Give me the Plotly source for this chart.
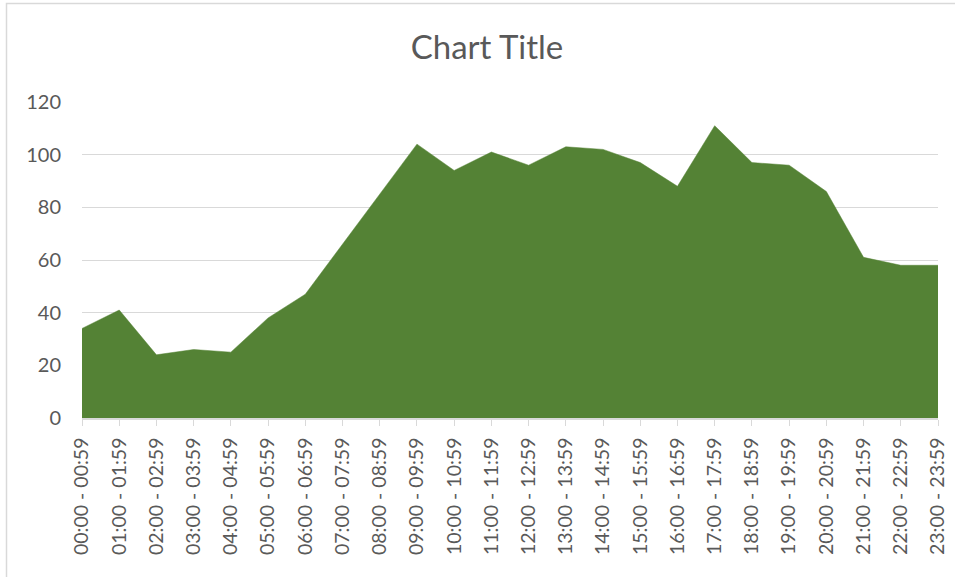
import plotly.graph_objects as go

categories = [f"{h:02d}:00 - {h:02d}:59" for h in range(24)]
values = [34, 41, 24, 26, 25, 38, 47, 66, 85, 104, 94, 101,
          96, 103, 102, 97, 88, 111, 97, 96, 86, 61, 58, 58]
y_ticks = [0, 20, 40, 60, 80, 100, 120]

TEXT = "#595959"
GRID = "#D9D9D9"
GREEN = "#548235"
FONT = "Lato"

fig = go.Figure()
fig.add_trace(go.Scatter(
    x=categories, y=values, mode="lines", fill="tozeroy",
    fillcolor=GREEN, line=dict(color=GREEN, width=0.5),
    hoverinfo="x+y", showlegend=False,
))

L, R, T, B = 82, 17, 102, 159
W, H = 955, 577
pw, ph = W - L - R, H - T - B

def px_x(p):
    return (p - L) / pw

def px_y(p):
    return 1 - (p - T) / ph

fig.update_layout(
    width=W, height=H, autosize=False,
    margin=dict(l=L, r=R, t=T, b=B, autoexpand=False),
    paper_bgcolor="white", plot_bgcolor="white",
    title=dict(text="Chart Title", xref="container", x=487 / W,
               xanchor="center", yref="container",
               y=1 - 47 / H, yanchor="middle",
               font=dict(family=FONT, size=33, color=TEXT)),
    font=dict(family=FONT, color=TEXT),
    xaxis=dict(
        type="category", range=[0, len(categories) - 1], automargin=False,
        showgrid=False, showline=True, linecolor=GRID, linewidth=1.5,
        ticks="outside", ticklen=6, tickcolor=GRID, tickwidth=1,
        tickangle=-90, tickfont=dict(family=FONT, size=19.5, color=TEXT),
        ticklabelstandoff=4,
    ),
    yaxis=dict(
        range=[0, 120], tickvals=y_ticks, automargin=False,
        showgrid=True, gridcolor=GRID, gridwidth=1,
        zeroline=False, showline=False, ticks="",
        tickfont=dict(family=FONT, size=20, color=TEXT),
        ticklabelstandoff=20,
    ),
    shapes=[dict(type="rect", xref="paper", yref="paper",
                 x0=px_x(6.5), x1=px_x(962), y0=px_y(590), y1=px_y(3.5),
                 line=dict(color=GRID, width=1.5), fillcolor="rgba(0,0,0,0)",
                 layer="above")],
)

fig.write_html("out.html",
               config=dict(displayModeBar=False),
               post_script="document.body.style.margin='0';")
